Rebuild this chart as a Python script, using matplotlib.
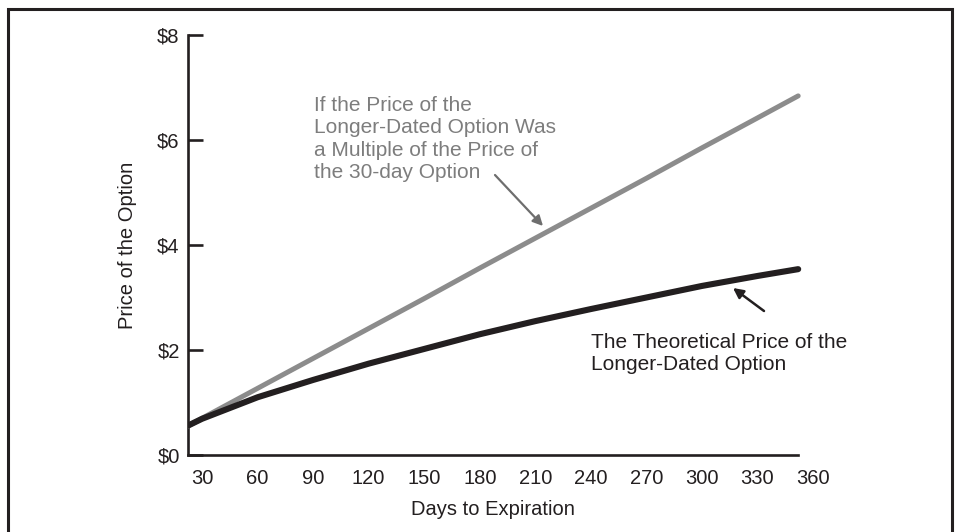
import matplotlib.pyplot as plt
from matplotlib.patches import Rectangle

# days to expiration
days = [22.4, 30, 60, 90, 120, 150, 180, 210, 240, 270, 300, 330, 352]
# price if longer option were a multiple of the 30-day option
multiple_price = [0.55, 0.70, 1.27, 1.84, 2.41, 2.98, 3.56, 4.13, 4.70, 5.27, 5.85, 6.42, 6.84]
# theoretical price
theo_price = [0.56, 0.69, 1.10, 1.43, 1.74, 2.02, 2.30, 2.55, 2.78, 3.00, 3.22, 3.41, 3.54]

x_ticks = [30, 60, 90, 120, 150, 180, 210, 240, 270, 300, 330, 360]
y_ticks = [0, 2, 4, 6, 8]

plt.rcParams['font.family'] = ['Liberation Sans', 'DejaVu Sans']

fig = plt.figure(figsize=(9.6, 5.32), dpi=100)
ax = fig.add_axes([188/960, 77/532, (813-188)/960, 420/532])

dark = '#231f20'
gray = '#8c8c8c'
fs = 14.5

ax.plot(days, multiple_price, color=gray, lw=3.6, solid_capstyle='round', zorder=3)
ax.plot(days, theo_price, color=dark, lw=4.4, solid_capstyle='round', zorder=4)

ax.set_xlim(days[0], 360)
ax.set_ylim(0, 8)
ax.spines['bottom'].set_bounds(days[0], days[-1])
for s in ['top', 'right']:
    ax.spines[s].set_visible(False)
for s in ['left', 'bottom']:
    ax.spines[s].set_linewidth(1.9)
    ax.spines[s].set_color(dark)

ax.set_xticks(x_ticks)
ax.set_xticklabels([str(v) for v in x_ticks])
ax.set_yticks(y_ticks)
ax.set_yticklabels(['$%d' % v for v in y_ticks])
ax.tick_params(axis='x', length=0, pad=10, labelsize=fs, labelcolor=dark)
ax.tick_params(axis='y', direction='in', length=11, width=1.9, color=dark,
               pad=6, labelsize=fs, labelcolor=dark)

ax.set_xlabel('Days to Expiration', fontsize=fs, color=dark)
ax.set_ylabel('Price of the Option', fontsize=fs, color=dark)
ax.xaxis.set_label_coords((493-188)/(813-188), -0.108)
ax.yaxis.set_label_coords(-(188-137)/625, 0.5)

fig.text(314/960, 1-96/532,
         'If the Price of the\nLonger-Dated Option Was\na Multiple of the Price of\nthe 30-day Option',
         ha='left', va='top', fontsize=15, color='#7d7d7d', linespacing=1.22)
ax.annotate('', xy=(543, 532-226), xycoords='figure pixels',
            xytext=(495, 532-175), textcoords='figure pixels',
            arrowprops=dict(arrowstyle='-|>', color='#6e6e6e', lw=1.6,
                            mutation_scale=15, shrinkA=0, shrinkB=0))

ax.annotate('', xy=(733, 532-288), xycoords='figure pixels',
            xytext=(764, 532-311), textcoords='figure pixels',
            arrowprops=dict(arrowstyle='-|>', color=dark, lw=1.8,
                            mutation_scale=15, shrinkA=0, shrinkB=0))
fig.text(591/960, 1-333/532, 'The Theoretical Price of the\nLonger-Dated Option',
         ha='left', va='top', fontsize=15, color=dark, linespacing=1.22)

# outer frame
fig.patches.append(Rectangle((8/960, -0.02), (952-8)/960, (532-9)/532 + 0.02,
                             transform=fig.transFigure, fill=False,
                             edgecolor=dark, lw=2.2))

fig.savefig('out.png', dpi=100)
